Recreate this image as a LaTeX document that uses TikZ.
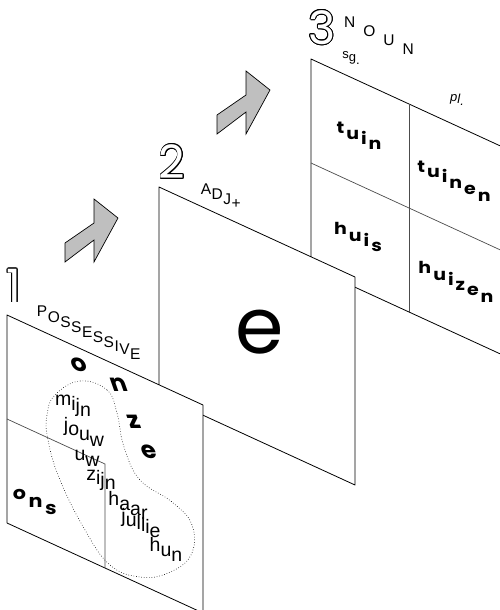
\documentclass[tikz,border=0pt]{standalone}
\usepackage{fontspec}
\setsansfont{Liberation Sans}
\newfontfamily\geofont{Poppins}
\newfontfamily\widegeo{Poppins}[FakeStretch=1.15]
\newfontfamily\onzefont{Poppins}[FakeSlant=-0.35]
\usepackage[copies]{contour}
\contourlength{0.7pt}
\newcommand{\hollow}[1]{{\color{white}\contour{black}{#1}}}

% letters stepped down along the sheets (slope 0.46)
\makeatletter
\newdimen\stair@drop
\newdimen\stair@w
\newdimen\stairgap
\def\stairk{0.46}
\newcommand{\stairtext}[1]{\stair@drop=0pt\edef\stair@tmp{#1}\expandafter\stair@loop\stair@tmp\relax}
\def\stair@loop#1{%
  \ifx#1\relax\else
    \setbox\z@\hbox{#1}\stair@w=\wd\z@
    \raisebox{-\dimexpr\stair@drop+\stairk\stair@w/2\relax}{\copy\z@}\kern\stairgap
    \advance\stair@w by \stairgap
    \advance\stair@drop by \stairk\stair@w
    \expandafter\stair@loop
  \fi}
\makeatother
\newcommand{\wordfont}{\widegeo\bfseries\fontsize{16.5}{16.5}\selectfont\stairgap=2pt\relax}
\newcommand{\pronfont}{\sffamily\fontsize{19.5}{19.5}\selectfont\stairgap=0pt\relax}
\newcommand{\headfont}{\sffamily\fontsize{15.5}{15.5}\selectfont\stairgap=0.5pt\relax}

\begin{document}
\begin{tikzpicture}[x=1pt,y=-1pt,
  panel/.style={draw=black,line width=0.8pt,fill=white,line join=round},
  divider/.style={draw=black!70,line width=0.7pt},
  bigarrow/.style={draw=black,line width=0.7pt,fill=gray!50},
  ring/.style={draw=black,dotted,line width=0.6pt},
  word/.style={font=\wordfont,inner sep=0pt},
  pron/.style={font=\pronfont,inner sep=0pt},
  onze/.style={font=\onzefont\bfseries\fontsize{24}{24}\selectfont,inner sep=0pt},
  headline/.style={font=\headfont,inner sep=0pt},
  digit/.style={font=\geofont\fontsize{46}{46}\selectfont,inner sep=0pt}]
\useasboundingbox (0,0) rectangle (500,610);
\clip (0,0) rectangle (500,610);

% the three slanted sheets, back to front
\foreach \k in {2,1,0} {
  \draw[panel] ({7+152*\k},{315-128*\k}) -- ++(196,90) -- ++(0,208) -- ++(-196,-90) -- cycle;
}

% grey arrows between the sheets
\foreach \k in {0,1} {
  \draw[bigarrow,shift={({152*\k},{-128*\k})}] (65,243) -- (94,223) -- (94,199) -- (118,218)
    -- (94,262) -- (94,240) -- (65,262) -- cycle;
}

% sheet numbers and headings
\node[digit] (one) at (14,286) {\hollow{1}};
\node[digit] (two) at (172,162) {\hollow{2}};
\node[digit] (three) at (322,28) {\hollow{3}};
\node[headline] (possessive) at (89,333) {\stairtext{POSSESSIVE}};
\node[headline] (adj) at (221,196) {\stairtext{ADJ+}};
\node[headline] (noun) at (383,36) {\stairgap=8pt\stairtext{NOUN}};
\node[headline,font=\sffamily\fontsize{13}{13}\selectfont] (sg) at (351,58) {\stairtext{sg.}};
\node[headline,font=\sffamily\itshape\fontsize{13}{13}\selectfont] (pl) at (457,100) {\stairtext{pl.}};

% sheet 3: noun
\draw[divider] (409,104) -- (409,312);
\draw[divider] (311,163) -- (507,253);
\foreach \wrd/\px/\py in {tuin/360/136, tuinen/455/181, huis/359/237, huizen/457/282} {
  \node[word] (\wrd) at (\px,\py) {\stairtext{\wrd}};
}

% sheet 2: adjective ending
\node[font=\geofont\fontsize{78}{78}\selectfont,inner sep=0pt] (ending) at (260,332) {e};

% sheet 1: possessives
\draw[divider] (7,419) -- (105,464) -- (105,568);
\foreach \wrd/\px/\py in {o/81/365, n/121/385, z/136/422, e/151/452} {
  \node[onze] (onze-\wrd) at (\px,\py) {\wrd};
}
\foreach \wrd/\px/\py in {mijn/73/406, jouw/84/432, uw/87/458, zijn/101/480, haar/128/505, jullie/141/523, hun/166/549} {
  \node[pron] (\wrd) at (\px,\py) {\stairtext{\wrd}};
}
\node[word,font=\widegeo\bfseries\fontsize{18}{18}\selectfont] (ons) at (36,502) {\stairgap=2.5pt\stairtext{ons}};
\draw[ring] plot[smooth cycle,tension=0.7] coordinates {(80,381) (107,390) (117,413) (124,447)
  (140,480) (172,502) (192,525) (191,555) (168,573) (140,577) (110,565) (85,530)
  (60,480) (48,440) (47,415) (55,395)};
\end{tikzpicture}
\end{document}
